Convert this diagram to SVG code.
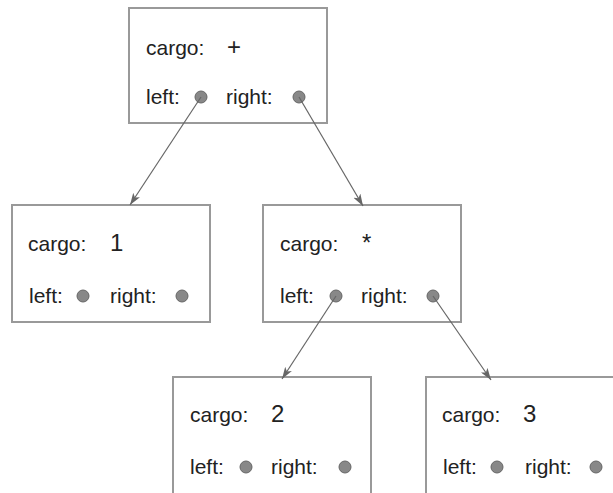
<svg xmlns="http://www.w3.org/2000/svg" width="613" height="493" viewBox="0 0 613 493">
<defs>
<style>
.box{fill:#fff;stroke:#999;stroke-width:2}
.t{font-family:"Liberation Sans",Arial,sans-serif;font-size:21px;fill:#222}
.v{font-family:"Liberation Sans",Arial,sans-serif;font-size:24px;fill:#222}
.dot{fill:#888;stroke:#666;stroke-width:1}
.edge{stroke:#666;stroke-width:1.2;fill:none;marker-end:url(#arr)}
</style>
<marker id="arr" viewBox="0 0 12 8" refX="12" refY="4" markerWidth="12" markerHeight="8" markerUnits="userSpaceOnUse" orient="auto">
<path d="M0,0 L12,4 L0,8 L3,4 Z" fill="#666"/>
</marker>
</defs>
<rect width="613" height="493" fill="#fff"/>
<g id="node-plus">
<rect class="box" x="129" y="8" width="198" height="115"/>
<text class="t" x="146" y="55">cargo:</text>
<text class="v" x="227" y="55">+</text>
<text class="t" x="146" y="104">left:</text>
<circle class="dot" cx="201" cy="97" r="6"/>
<text class="t" x="226" y="104">right:</text>
<circle class="dot" cx="299" cy="97" r="6"/>
</g>
<g id="node-1">
<rect class="box" x="12" y="205" width="198" height="117"/>
<text class="t" x="28" y="251">cargo:</text>
<text class="v" x="110" y="251">1</text>
<text class="t" x="29" y="303">left:</text>
<circle class="dot" cx="83" cy="296" r="6"/>
<text class="t" x="110" y="303">right:</text>
<circle class="dot" cx="182" cy="296" r="6"/>
</g>
<g id="node-star">
<rect class="box" x="263" y="205" width="198" height="117"/>
<text class="t" x="280" y="251">cargo:</text>
<text class="v" x="362" y="251">*</text>
<text class="t" x="280" y="303">left:</text>
<circle class="dot" cx="336" cy="296" r="6"/>
<text class="t" x="361" y="303">right:</text>
<circle class="dot" cx="433" cy="296" r="6"/>
</g>
<g id="node-2">
<rect class="box" x="173" y="377" width="198" height="117"/>
<text class="t" x="190" y="422">cargo:</text>
<text class="v" x="271" y="422">2</text>
<text class="t" x="190" y="474">left:</text>
<circle class="dot" cx="246" cy="467" r="6"/>
<text class="t" x="271" y="474">right:</text>
<circle class="dot" cx="345" cy="467" r="6"/>
</g>
<g id="node-3">
<rect class="box" x="426" y="377" width="198" height="117"/>
<text class="t" x="442" y="422">cargo:</text>
<text class="v" x="523" y="422">3</text>
<text class="t" x="443" y="474">left:</text>
<circle class="dot" cx="497" cy="467" r="6"/>
<text class="t" x="525" y="474">right:</text>
<circle class="dot" cx="596" cy="467" r="6"/>
</g>
<g id="connectors">
<line class="edge" x1="201" y1="97" x2="130" y2="205"/>
<line class="edge" x1="299" y1="97" x2="363" y2="206"/>
<line class="edge" x1="336" y1="296" x2="282" y2="379"/>
<line class="edge" x1="433" y1="296" x2="491" y2="380"/>
</g>
</svg>
